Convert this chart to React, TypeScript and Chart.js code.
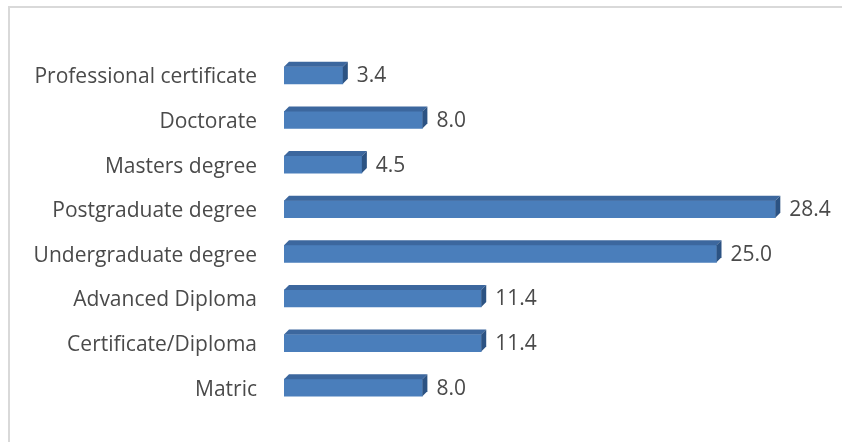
import React, { useEffect, useRef } from "react";
import { Chart, registerables } from "chart.js";

Chart.register(...registerables);

const categories = [
  "Professional certificate",
  "Doctorate",
  "Masters degree",
  "Postgraduate degree",
  "Undergraduate degree",
  "Advanced Diploma",
  "Certificate/Diploma",
  "Matric",
];
const values = [3.4, 8.0, 4.5, 28.4, 25.0, 11.4, 11.4, 8.0];

const FONT = "'Open Sans', sans-serif";
const DEPTH = 5;
const TEXT = "#4a4a4a";

const bar3d = {
  id: "bar3d",
  afterDatasetsDraw(chart: any) {
    const ctx = chart.ctx;
    const meta = chart.getDatasetMeta(0);
    ctx.save();
    meta.data.forEach((el: any, i: number) => {
      const { x, y, base, height } = el.getProps(["x", "y", "base", "height"], true);
      const top = y - height / 2;
      const bottom = y + height / 2;
      const d = DEPTH;
      ctx.beginPath();
      ctx.moveTo(base, top);
      ctx.lineTo(base + d, top - d);
      ctx.lineTo(x + d, top - d);
      ctx.lineTo(x, top);
      ctx.closePath();
      ctx.fillStyle = "#3c679e";
      ctx.fill();
      ctx.beginPath();
      ctx.moveTo(x, top);
      ctx.lineTo(x + d, top - d);
      ctx.lineTo(x + d, bottom - d);
      ctx.lineTo(x, bottom);
      ctx.closePath();
      ctx.fillStyle = "#2c5383";
      ctx.fill();
      ctx.fillStyle = TEXT;
      ctx.font = "21px " + FONT;
      ctx.textAlign = "left";
      ctx.textBaseline = "middle";
      ctx.fillText(values[i].toFixed(1), x + d + 9, y + 1);
    });
    ctx.restore();
  },
};

export default function App() {
  const ref = useRef<HTMLCanvasElement>(null);
  useEffect(() => {
    const chart = new Chart(ref.current!, {
      type: "bar",
      data: {
        labels: categories,
        datasets: [
          {
            data: values,
            backgroundColor: "#4a7ebb",
            barThickness: 17,
          },
        ],
      },
      plugins: [bar3d],
      options: {
        indexAxis: "y",
        animation: false,
        responsive: false,
        maintainAspectRatio: false,
        layout: { padding: { top: 53, bottom: 32, right: 39, left: 0 } },
        plugins: { legend: { display: false }, tooltip: { enabled: false } },
        scales: {
          x: { display: false, min: 0, max: 30 },
          y: {
            grid: { display: false, drawTicks: false },
            border: { display: false },
            ticks: {
              color: TEXT,
              font: { family: FONT, size: 21 },
              padding: 27,
              labelOffset: 2,
            },
            afterFit(scale: any) {
              scale.width = 284;
              scale.paddingTop = 0;
              scale.paddingBottom = 0;
            },
          },
        },
      },
    });
    return () => chart.destroy();
  }, []);
  return (
    <div style={{ position: "fixed", left: 0, top: 0, width: 842, height: 442, overflow: "hidden", background: "#fff" }}>
      <div
        style={{
          position: "absolute",
          left: 8,
          top: 6,
          width: 900,
          height: 500,
          border: "2px solid #d9d9d9",
          boxSizing: "border-box",
        }}
      />
      <canvas ref={ref} width={842} height={442} style={{ position: "absolute", left: 0, top: 0 }} />
    </div>
  );
}
